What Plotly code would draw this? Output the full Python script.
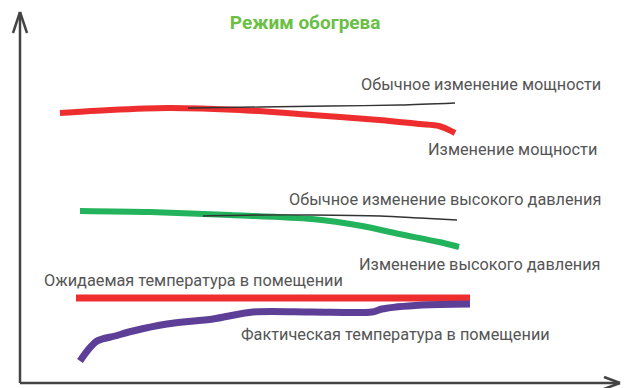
import plotly.graph_objects as go

# Sketch-style chart of a heating mode: power, high pressure and room temperature curves.
# x: time (arbitrary units), y: level (arbitrary units, higher is up)

power_x = [60, 110, 167, 240, 312, 379, 420, 439, 449, 455]
power_y = [275, 278, 280, 278, 273, 268, 264, 262, 258, 255]

power_usual_x = [188, 260, 330, 400, 455]
power_usual_y = [280, 281, 282, 283, 285]

pressure_x = [80, 150, 230, 312, 362, 399, 439, 459]
pressure_y = [177, 176, 173, 169, 162, 154, 146, 141]

pressure_usual_x = [203, 260, 312, 380, 420, 457]
pressure_usual_y = [172, 173, 173, 172, 170, 168]

temp_expected_x = [76, 200, 330, 470]
temp_expected_y = [90, 90, 90, 90]

temp_actual_x = [80, 88, 97, 115, 133, 167, 213, 253, 312, 372, 382, 422, 470]
temp_actual_y = [27, 38, 47, 52, 57, 64, 69, 76, 76, 76, 79, 83, 84]

labels = [
    ("Обычное изменение мощности", 603, 304),
    ("Изменение мощности", 599, 239),
    ("Обычное изменение высокого давления", 603, 189),
    ("Изменение высокого давления", 603, 124),
    ("Ожидаемая температура в помещении", 345, 108),
    ("Фактическая температура в помещении", 552, 54),
]

title_text = "Режим обогрева"

RED = "#ee2e2e"
GREEN = "#22b35c"
PURPLE = "#5e3f98"
INK = "#333333"
AXIS = "#444444"
LABEL = "#555555"

fig = go.Figure()

def curve(x, y, color, width):
    fig.add_trace(go.Scatter(
        x=x, y=y, mode="lines",
        line=dict(color=color, width=width, shape="spline", smoothing=0.8),
        hoverinfo="skip", showlegend=False,
    ))

curve(power_x, power_y, RED, 6)
curve(power_usual_x, power_usual_y, INK, 1.4)
curve(pressure_x, pressure_y, GREEN, 6)
curve(pressure_usual_x, pressure_usual_y, INK, 1.4)
curve(temp_expected_x, temp_expected_y, RED, 7)
curve(temp_actual_x, temp_actual_y, PURPLE, 7)

# hand-drawn axes with arrowheads
axis_line = dict(color=AXIS, width=2.5)
shapes = [
    dict(type="line", x0=20, y0=5, x1=20, y1=376, line=axis_line),
    dict(type="line", x0=20, y0=5, x1=620, y1=5, line=axis_line),
    dict(type="line", x0=13, y0=355, x1=20, y1=376, line=axis_line),
    dict(type="line", x0=27, y0=355, x1=20, y1=376, line=axis_line),
    dict(type="line", x0=604, y0=11, x1=620, y1=5, line=axis_line),
    dict(type="line", x0=604, y0=-1, x1=620, y1=5, line=axis_line),
]

annotations = []
for text, x, y in labels:
    annotations.append(dict(
        text=text, x=x, y=y, xref="x", yref="y",
        xanchor="right", yanchor="middle", showarrow=False,
        font=dict(family="Roboto", size=16.3, color=LABEL),
    ))

fig.update_layout(
    width=624, height=388,
    margin=dict(l=0, r=0, t=0, b=0),
    paper_bgcolor="white", plot_bgcolor="white",
    title=dict(
        text=f"<b>{title_text}</b>", x=0.489, xanchor="center", y=0.943, yanchor="middle",
        font=dict(family="Roboto", size=19, color="#6abf45"),
    ),
    xaxis=dict(range=[0, 624], visible=False, fixedrange=True),
    yaxis=dict(range=[0, 388], visible=False, fixedrange=True),
    shapes=shapes,
    annotations=annotations,
)

fig.write_html("out.html")
